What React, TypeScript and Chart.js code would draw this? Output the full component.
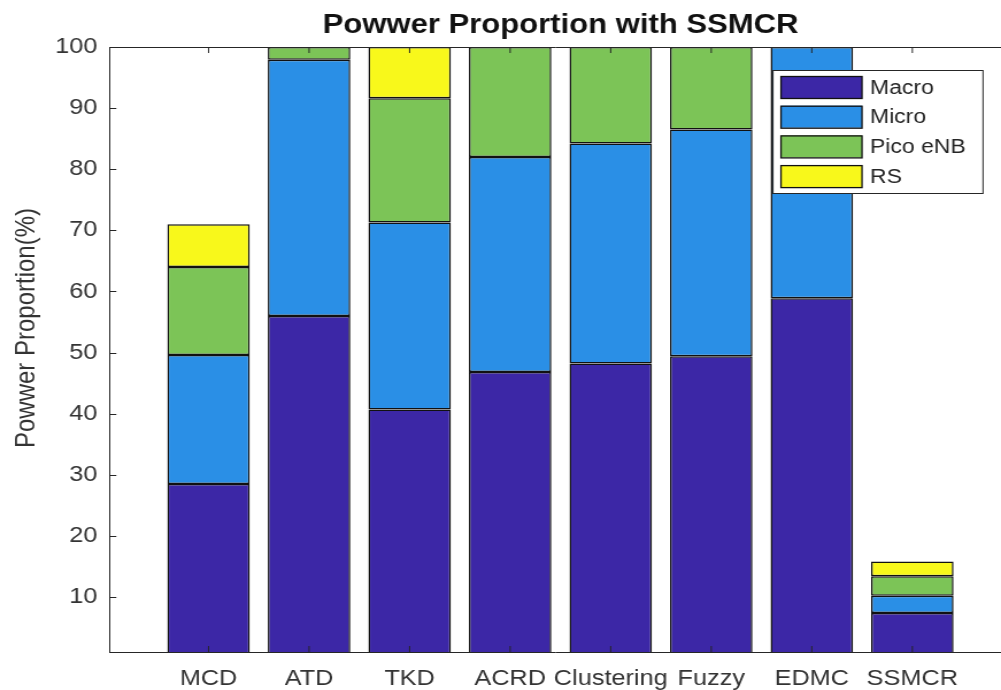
import React, { useEffect, useRef } from 'react';
import { Chart, registerables } from 'chart.js';

Chart.register(...registerables);

const categories = ['MCD', 'ATD', 'TKD', 'ACRD', 'Clustering', 'Fuzzy', 'EDMC', 'SSMCR'];
const macro = [28.5, 56.0, 40.7, 46.8, 48.2, 49.4, 58.9, 7.4];
const micro = [21.1, 41.9, 30.6, 35.2, 36.0, 37.1, 41.1, 2.8];
const pico = [14.4, 2.1, 20.3, 18.0, 15.8, 13.5, 0, 3.2];
const rs = [7.0, 0, 8.4, 0, 0, 0, 0, 2.4];
const seriesNames = ['Macro', 'Micro', 'Pico eNB', 'RS'];
const seriesColors = ['#3c27a6', '#2a8fe6', '#7cc457', '#f8f81b'];
const yTicks = [10, 20, 30, 40, 50, 60, 70, 80, 90, 100];
const titleText = 'Powwer Proportion with SSMCR';
const yTitleText = 'Powwer Proportion(%)';

const W = 871;
const H = 690;
const S = 1001 / W;
const FONT = '"Liberation Sans", Arial, Helvetica, sans-serif';
const AXIS = '#262626';

const decor = {
  id: 'decor',
  afterDatasetsDraw(chart: any) {
    const { ctx, chartArea: a, scales } = chart;
    ctx.save();
    ctx.strokeStyle = AXIS;
    ctx.lineWidth = 1;
    ctx.beginPath();
    ctx.moveTo(a.left, a.top + 0.5);
    ctx.lineTo(a.right, a.top + 0.5);
    yTicks.forEach((v) => {
      const y = Math.round(scales.y.getPixelForValue(v)) + 0.5;
      ctx.moveTo(a.left, y);
      ctx.lineTo(a.left + 5.5, y);
    });
    categories.forEach((_, i) => {
      const x = scales.x.getPixelForValue(i + 1);
      ctx.moveTo(x, a.top);
      ctx.lineTo(x, a.top + 6);
      ctx.moveTo(x, a.bottom);
      ctx.lineTo(x, a.bottom - 6);
    });
    ctx.stroke();
    ctx.restore();
  },
  afterDraw(chart: any) {
    const { ctx, scales } = chart;
    ctx.save();
    // title
    ctx.fillStyle = '#111';
    ctx.font = `bold 27px ${FONT}`;
    ctx.textAlign = 'center';
    ctx.textBaseline = 'middle';
    ctx.fillText(titleText, scales.x.getPixelForValue(4.5), 26);
    // y title
    ctx.save();
    ctx.translate(27 / S, 328);
    ctx.rotate(-Math.PI / 2);
    ctx.fillStyle = '#333';
    ctx.font = `24px ${FONT}`;
    ctx.fillText(yTitleText, 0, 0);
    ctx.restore();
    // legend
    const lx = 773 / S;
    const rx = 983 / S;
    const ty = 70;
    const by = 193;
    ctx.fillStyle = '#fff';
    ctx.fillRect(lx, ty, rx - lx, by - ty);
    ctx.strokeStyle = AXIS;
    ctx.lineWidth = 1;
    ctx.strokeRect(lx, ty + 0.5, rx - lx, by - ty);
    const sx = 781 / S;
    const sw = (862 - 781) / S;
    const tx = 870 / S;
    chart.data.datasets.forEach((ds: any, k: number) => {
      const cy = 87 + k * 29.7;
      ctx.fillStyle = ds.backgroundColor;
      ctx.fillRect(sx, cy - 11, sw, 22);
      ctx.strokeStyle = '#111';
      ctx.lineWidth = 1.3;
      ctx.strokeRect(sx, cy - 11 + 0.5, sw, 22);
      ctx.fillStyle = '#262626';
      ctx.font = `20px ${FONT}`;
      ctx.textAlign = 'left';
      ctx.textBaseline = 'middle';
      ctx.fillText(ds.label, tx, cy + 1);
    });
    ctx.restore();
  },
};

export default function App() {
  const ref = useRef<HTMLCanvasElement | null>(null);
  useEffect(() => {
    if (!ref.current) return;
    const values = [macro, micro, pico, rs];
    const tickFont = { family: FONT, size: 22 };
    const chart = new Chart(ref.current, {
      type: 'bar',
      data: {
        datasets: seriesNames.map((name, k) => ({
          label: name,
          data: categories.map((_, i) => ({ x: i + 1, y: values[k][i] })),
          backgroundColor: seriesColors[k],
          borderColor: '#111',
          borderWidth: 1.5,
          borderSkipped: false,
          barPercentage: 0.82,
          categoryPercentage: 1,
        })),
      },
      options: {
        responsive: false,
        animation: false,
        devicePixelRatio: 1,
        layout: { padding: { top: 47, left: 0, right: 0, bottom: 0 } },
        plugins: {
          legend: { display: false },
          title: { display: false },
          tooltip: { enabled: false },
        },
        scales: {
          x: {
            type: 'linear',
            stacked: true,
            offset: false,
            min: 0.02,
            max: 8.882,
            afterFit: (s: any) => { s.height = 38; },
            afterBuildTicks: (s: any) => { s.ticks = categories.map((_, i) => ({ value: i + 1 })); },
            ticks: {
              autoSkip: false,
              maxRotation: 0,
              minRotation: 0,
              padding: 14,
              font: tickFont,
              color: '#333',
              callback: (v: any) => categories[Number(v) - 1] ?? '',
            },
            grid: { drawOnChartArea: false, drawTicks: false, offset: false },
            border: { display: true, color: AXIS, width: 1 },
          },
          y: {
            stacked: true,
            min: 1,
            max: 100,
            afterFit: (s: any) => { s.width = 110 / S; },
            afterBuildTicks: (s: any) => { s.ticks = yTicks.map((v) => ({ value: v })); },
            ticks: { padding: 11, font: tickFont, color: '#333' },
            grid: { drawOnChartArea: false, drawTicks: false },
            border: { display: true, color: AXIS, width: 1 },
          },
        },
      } as any,
      plugins: [decor],
    });
    return () => chart.destroy();
  }, []);
  return (
    <div style={{ position: 'fixed', left: 0, top: 0, width: 1001, height: 690, overflow: 'hidden', background: '#fff' }}>
      <canvas
        ref={ref}
        width={W}
        height={H}
        style={{ width: `${W}px`, height: `${H}px`, display: 'block', transform: `scaleX(${S})`, transformOrigin: '0 0' }}
      />
    </div>
  );
}
